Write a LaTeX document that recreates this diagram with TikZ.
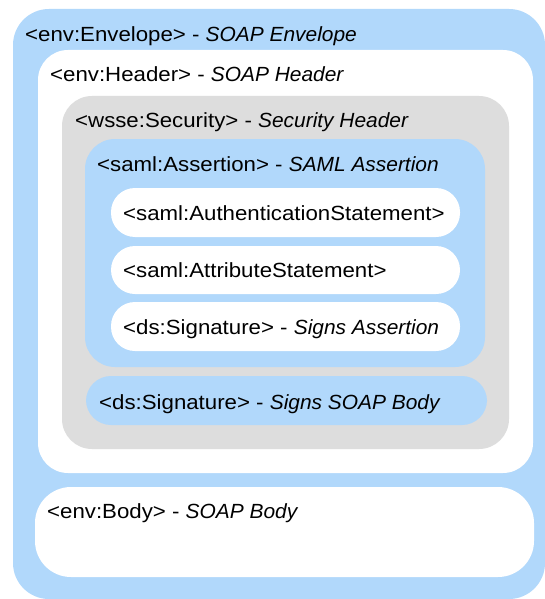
\documentclass[tikz,border=0pt]{standalone}
\usepackage{fontspec}
\setmainfont{Liberation Sans}[FakeStretch=1.085]
\newfontfamily\itfam{Liberation Sans}[FakeStretch=1.02]
\newcommand\itx[1]{{\itfam\itshape #1}}
\definecolor{soapblue}{RGB}{177,216,251}
\definecolor{secgray}{RGB}{221,221,221}
\tikzset{
  lbl/.style={anchor=base west, inner sep=0pt, font=\fontsize{20.5}{24}\selectfont},
  bluebox/.style={fill=soapblue},
  whitebox/.style={fill=white},
  graybox/.style={fill=secgray}
}
\begin{document}
\begin{tikzpicture}[x=1pt,y=-1pt]
\useasboundingbox (0,0) rectangle (545,599);
% envelope
\fill[bluebox, rounded corners=36pt] (13,9) rectangle (545,599);
% header
\fill[whitebox, rounded corners=30pt] (38,50) rectangle (533,473);
% security
\fill[graybox, rounded corners=30pt] (62,96) rectangle (509,449);
% assertion
\fill[bluebox, rounded corners=30pt] (85,139) rectangle (485,367);
% pills
\fill[whitebox, rounded corners=24pt] (111,188) rectangle (460,237);
\fill[whitebox, rounded corners=24pt] (111,246) rectangle (460,294);
\fill[whitebox, rounded corners=24pt] (111,302) rectangle (460,351);
% signs soap body
\fill[bluebox, rounded corners=25pt] (86,376) rectangle (487,425);
% body
\fill[whitebox, rounded corners=36pt] (35,487) rectangle (534,577);

\node[lbl] (env) at (25,42) {<env:Envelope> - \itx{SOAP Envelope}};
\node[lbl] (hdr) at (50,82) {<env:Header> - \itx{SOAP Header}};
\node[lbl] (sec) at (75,128) {<wsse:Security> - \itx{Security Header}};
\node[lbl] (ass) at (97,171) {<saml:Assertion> - \itx{SAML Assertion}};
\node[lbl] (auth) at (123,220) {<saml:AuthenticationStatement>};
\node[lbl] (attr) at (123,277) {<saml:AttributeStatement>};
\node[lbl] (sig1) at (123,334) {<ds:Signature> - \itx{Signs Assertion}};
\node[lbl] (sig2) at (99,409) {<ds:Signature> - \itx{Signs SOAP Body}};
\node[lbl] (body) at (47,518) {<env:Body> - \itx{SOAP Body}};
\end{tikzpicture}
\end{document}
